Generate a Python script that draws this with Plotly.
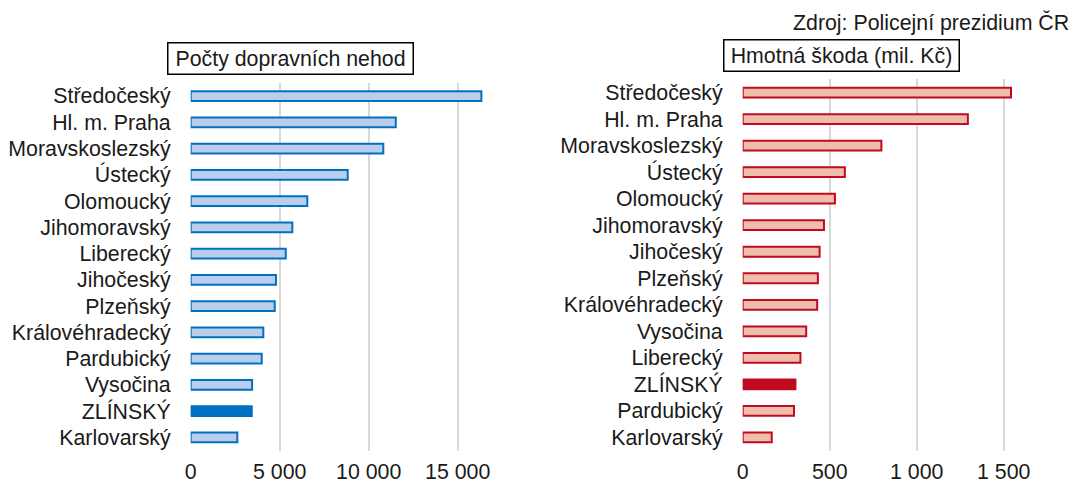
import plotly.graph_objects as go

W, H = 1075, 483

# Left panel: counts of traffic accidents
regions_left = ["Středočeský", "Hl. m. Praha", "Moravskoslezský", "Ústecký", "Olomoucký",
                "Jihomoravský", "Liberecký", "Jihočeský", "Plzeňský", "Královéhradecký",
                "Pardubický", "Vysočina", "ZLÍNSKÝ", "Karlovarský"]
accidents = [16330, 11520, 10820, 8820, 6550, 5710, 5340, 4790, 4720, 4080, 3990, 3450, 3430, 2620]

# Right panel: material damage (mil. Kč)
regions_right = ["Středočeský", "Hl. m. Praha", "Moravskoslezský", "Ústecký", "Olomoucký",
                 "Jihomoravský", "Jihočeský", "Plzeňský", "Královéhradecký", "Vysočina",
                 "Liberecký", "ZLÍNSKÝ", "Pardubický", "Karlovarský"]
damage = [1542, 1294, 797, 587, 530, 467, 442, 432, 428, 365, 332, 303, 295, 167]

left_ticks = [0, 5000, 10000, 15000]
left_ticktext = ["0", "5 000", "10 000", "15 000"]
right_ticks = [0, 500, 1000, 1500]
right_ticktext = ["0", "500", "1 000", "1 500"]

title_left = "Počty dopravních nehod"
title_right = "Hmotná škoda (mil. Kč)"
source = "Zdroj: Policejní prezidium ČR"
highlight = "ZLÍNSKÝ"

FONT = "Liberation Sans, Arial, sans-serif"
FS = 21.33
TXT = "#1a1a1a"
BLUE = "#0070C0"
BLUE_FILL = "#BACDEC"
RED = "#C00A20"
RED_FILL = "#EEBDAB"
GRID = "#D9D9D9"

def px_x(p):
    return p / W

def px_y(p):
    return 1 - p / H

fig = go.Figure()
fig.add_trace(go.Bar(
    y=regions_left, x=accidents, orientation="h",
    marker=dict(color=[BLUE if r == highlight else BLUE_FILL for r in regions_left],
                line=dict(color=BLUE, width=2)),
    width=0.37, xaxis="x", yaxis="y", showlegend=False, hoverinfo="x+y"))
fig.add_trace(go.Bar(
    y=regions_right, x=damage, orientation="h",
    marker=dict(color=[RED if r == highlight else RED_FILL for r in regions_right],
                line=dict(color=RED, width=2)),
    width=0.37, xaxis="x2", yaxis="y2", showlegend=False, hoverinfo="x+y"))

axis_font = dict(family=FONT, size=FS, color=TXT)

fig.update_layout(
    width=W, height=H,
    margin=dict(l=0, r=0, t=0, b=0),
    paper_bgcolor="white", plot_bgcolor="white",
    font=dict(family=FONT, size=FS, color=TXT),
    xaxis=dict(domain=[px_x(190.7), px_x(190.7 + 89 * 3.5)], range=[0, 17500],
               tickvals=left_ticks, ticktext=left_ticktext, tickfont=axis_font,
               showgrid=True, gridcolor=GRID, gridwidth=2, zeroline=False,
               showline=False, ticks="", anchor="y", ticklabelstandoff=6,
               automargin=False),
    yaxis=dict(domain=[px_y(450.6), px_y(82.9)], categoryorder="array",
               categoryarray=regions_left, autorange="reversed",
               tickfont=axis_font, showgrid=False, zeroline=False,
               showline=False, ticks="", anchor="x", ticklabelstandoff=19,
               automargin=False),
    xaxis2=dict(domain=[px_x(742.7), px_x(742.7 + 87 * 3.5)], range=[0, 1750],
                tickvals=right_ticks, ticktext=right_ticktext, tickfont=axis_font,
                showgrid=True, gridcolor=GRID, gridwidth=2, zeroline=False,
                showline=False, ticks="", anchor="y2", ticklabelstandoff=6,
                automargin=False),
    yaxis2=dict(domain=[px_y(450.7), px_y(79.3)], categoryorder="array",
                categoryarray=regions_right, autorange="reversed",
                tickfont=axis_font, showgrid=False, zeroline=False,
                showline=False, ticks="", anchor="x2", ticklabelstandoff=19,
                automargin=False),
    annotations=[
        dict(text=title_left, x=px_x(290), y=px_y(58.3), xref="paper", yref="paper",
             xanchor="center", yanchor="middle", showarrow=False,
             font=dict(family=FONT, size=FS, color=TXT), width=240, height=26,
             bordercolor="#000000", borderwidth=1.5, borderpad=2, bgcolor="white"),
        dict(text=title_right, x=px_x(841), y=px_y(55.5), xref="paper", yref="paper",
             xanchor="center", yanchor="middle", showarrow=False,
             font=dict(family=FONT, size=FS, color=TXT), width=230, height=26,
             bordercolor="#000000", borderwidth=1.5, borderpad=2, bgcolor="white"),
        dict(text=source, x=px_x(1071), y=px_y(22), xref="paper", yref="paper",
             xanchor="right", yanchor="middle", showarrow=False,
             font=dict(family=FONT, size=FS, color=TXT)),
    ],
)

fig.write_html("out.html", config={"displayModeBar": False},
               post_script="document.body.style.margin='0';")
